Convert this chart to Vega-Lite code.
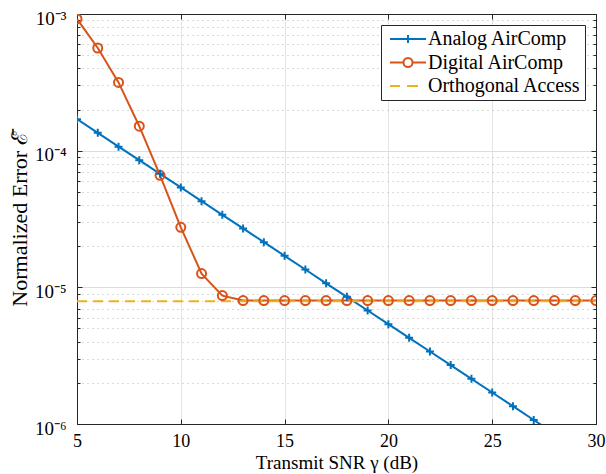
{
  "$schema": "https://vega.github.io/schema/vega-lite/v6.json",
  "width": 519,
  "height": 410,
  "autosize": {"type": "none"},
  "padding": {"left": 77, "top": 14, "right": 10, "bottom": 50},
  "background": "white",
  "config": {
    "view": {"stroke": null},
    "font": "Liberation Serif",
    "axis": {
      "labelFont": "Liberation Serif",
      "titleFont": "Liberation Serif",
      "labelFontSize": 18,
      "titleFontSize": 20,
      "titleFontWeight": "normal",
      "labelColor": "#000000",
      "titleColor": "#000000",
      "domainColor": "#262626",
      "tickColor": "#262626",
      "domainWidth": 1,
      "tickWidth": 1
    }
  },
  "data": {
    "values": [
      {"snr": 5, "err": 1.70e-4, "series": "Analog AirComp"},
      {"snr": 6, "err": 1.35e-4, "series": "Analog AirComp"},
      {"snr": 7, "err": 1.07e-4, "series": "Analog AirComp"},
      {"snr": 8, "err": 8.52e-5, "series": "Analog AirComp"},
      {"snr": 9, "err": 6.77e-5, "series": "Analog AirComp"},
      {"snr": 10, "err": 5.38e-5, "series": "Analog AirComp"},
      {"snr": 11, "err": 4.27e-5, "series": "Analog AirComp"},
      {"snr": 12, "err": 3.39e-5, "series": "Analog AirComp"},
      {"snr": 13, "err": 2.70e-5, "series": "Analog AirComp"},
      {"snr": 14, "err": 2.14e-5, "series": "Analog AirComp"},
      {"snr": 15, "err": 1.70e-5, "series": "Analog AirComp"},
      {"snr": 16, "err": 1.35e-5, "series": "Analog AirComp"},
      {"snr": 17, "err": 1.07e-5, "series": "Analog AirComp"},
      {"snr": 18, "err": 8.52e-6, "series": "Analog AirComp"},
      {"snr": 19, "err": 6.77e-6, "series": "Analog AirComp"},
      {"snr": 20, "err": 5.38e-6, "series": "Analog AirComp"},
      {"snr": 21, "err": 4.27e-6, "series": "Analog AirComp"},
      {"snr": 22, "err": 3.39e-6, "series": "Analog AirComp"},
      {"snr": 23, "err": 2.70e-6, "series": "Analog AirComp"},
      {"snr": 24, "err": 2.14e-6, "series": "Analog AirComp"},
      {"snr": 25, "err": 1.70e-6, "series": "Analog AirComp"},
      {"snr": 26, "err": 1.35e-6, "series": "Analog AirComp"},
      {"snr": 27, "err": 1.07e-6, "series": "Analog AirComp"},
      {"snr": 28, "err": 8.52e-7, "series": "Analog AirComp"},
      {"snr": 29, "err": 6.77e-7, "series": "Analog AirComp"},
      {"snr": 30, "err": 5.38e-7, "series": "Analog AirComp"},
      {"snr": 5, "err": 9.2e-4, "series": "Digital AirComp"},
      {"snr": 6, "err": 5.64e-4, "series": "Digital AirComp"},
      {"snr": 7, "err": 3.16e-4, "series": "Digital AirComp"},
      {"snr": 8, "err": 1.51e-4, "series": "Digital AirComp"},
      {"snr": 9, "err": 6.6e-5, "series": "Digital AirComp"},
      {"snr": 10, "err": 2.75e-5, "series": "Digital AirComp"},
      {"snr": 11, "err": 1.26e-5, "series": "Digital AirComp"},
      {"snr": 12, "err": 8.7e-6, "series": "Digital AirComp"},
      {"snr": 13, "err": 8.0e-6, "series": "Digital AirComp"},
      {"snr": 14, "err": 8.0e-6, "series": "Digital AirComp"},
      {"snr": 15, "err": 8.0e-6, "series": "Digital AirComp"},
      {"snr": 16, "err": 8.0e-6, "series": "Digital AirComp"},
      {"snr": 17, "err": 8.0e-6, "series": "Digital AirComp"},
      {"snr": 18, "err": 8.0e-6, "series": "Digital AirComp"},
      {"snr": 19, "err": 8.0e-6, "series": "Digital AirComp"},
      {"snr": 20, "err": 8.0e-6, "series": "Digital AirComp"},
      {"snr": 21, "err": 8.0e-6, "series": "Digital AirComp"},
      {"snr": 22, "err": 8.0e-6, "series": "Digital AirComp"},
      {"snr": 23, "err": 8.0e-6, "series": "Digital AirComp"},
      {"snr": 24, "err": 8.0e-6, "series": "Digital AirComp"},
      {"snr": 25, "err": 8.0e-6, "series": "Digital AirComp"},
      {"snr": 26, "err": 8.0e-6, "series": "Digital AirComp"},
      {"snr": 27, "err": 8.0e-6, "series": "Digital AirComp"},
      {"snr": 28, "err": 8.0e-6, "series": "Digital AirComp"},
      {"snr": 29, "err": 8.0e-6, "series": "Digital AirComp"},
      {"snr": 30, "err": 8.0e-6, "series": "Digital AirComp"},
      {"snr": 5, "err": 7.9e-6, "series": "Orthogonal Access"},
      {"snr": 10, "err": 7.9e-6, "series": "Orthogonal Access"},
      {"snr": 15, "err": 7.9e-6, "series": "Orthogonal Access"},
      {"snr": 20, "err": 7.9e-6, "series": "Orthogonal Access"},
      {"snr": 25, "err": 7.9e-6, "series": "Orthogonal Access"},
      {"snr": 30, "err": 7.9e-6, "series": "Orthogonal Access"}
    ]
  },
  "layer": [
    {
      "transform": [{"filter": "datum.series !== 'Orthogonal Access'"}],
      "mark": {"type": "line", "strokeWidth": 2, "clip": true},
      "encoding": {
        "x": {
          "field": "snr", "type": "quantitative",
          "scale": {"domain": [5, 30], "nice": false, "zero": false},
          "axis": {
            "orient": "bottom",
            "values": [5, 10, 15, 20, 25, 30],
            "title": "Transmit SNR γ (dB)",
            "titleFontSize": 19,
            "grid": true,
            "gridColor": "#e3e3e3",
            "gridWidth": 1,
            "tickSize": -5,
            "labelPadding": 13,
            "labelFlush": false,
            "titlePadding": 3
          }
        },
        "y": {
          "field": "err", "type": "quantitative",
          "scale": {"type": "log", "domain": [1e-6, 1e-3], "nice": false},
          "axis": {
            "orient": "left",
            "values": [1e-6, 2e-6, 3e-6, 4e-6, 5e-6, 6e-6, 7e-6, 8e-6, 9e-6, 1e-5, 2e-5, 3e-5, 4e-5, 5e-5, 6e-5, 7e-5, 8e-5, 9e-5, 1e-4, 2e-4, 3e-4, 4e-4, 5e-4, 6e-4, 7e-4, 8e-4, 9e-4, 1e-3],
            "labelExpr": "abs(log(datum.value)/LN10 - round(log(datum.value)/LN10)) < 0.01 ? '10⁻' + ['⁰','¹','²','³','⁴','⁵','⁶'][-round(log(datum.value)/LN10)] : ''",
            "labelFontSize": 19,
            "labelOffset": 4,
            "grid": true,
            "gridColor": {"condition": {"test": "abs(log(datum.value)/LN10 - round(log(datum.value)/LN10)) < 0.01", "value": "#dcdcdc"}, "value": "#b5b5b5"},
            "gridDash": {"condition": {"test": "abs(log(datum.value)/LN10 - round(log(datum.value)/LN10)) < 0.01", "value": []}, "value": [1, 4]},
            "tickSize": {"condition": {"test": "abs(log(datum.value)/LN10 - round(log(datum.value)/LN10)) < 0.01", "value": -5}, "value": -3},
            "labelPadding": 16,
            "title": "Normalized Error ℰ̄",
            "titleFontSize": 22,
            "titlePadding": 3
          }
        },
        "color": {
          "field": "series", "type": "nominal",
          "scale": {"domain": ["Analog AirComp", "Digital AirComp", "Orthogonal Access"], "range": ["#0072BD", "#D95319", "#EDB120"]},
          "legend": {
            "title": null,
            "orient": "none",
            "legendX": 304,
            "legendY": 11,
            "padding": 4,
            "strokeColor": "#262626",
            "fillColor": "white",
            "labelFont": "Liberation Serif",
            "labelFontSize": 20,
            "labelColor": "#000000",
            "symbolSize": 100,
            "symbolStrokeWidth": 2,
            "symbolOffset": 13,
            "labelOffset": 10,
            "rowPadding": 3.5,
            "encode": {
              "symbols": {
                "update": {
                  "shape": {"signal": "datum.value === 'Analog AirComp' ? 'M-3.6,0H3.6M0,-0.8V0.8' : datum.value === 'Digital AirComp' ? 'M-3.6,0H-0.9M0.9,0H3.6M-0.9,0A0.9,0.9 0 1,0 0.9,0A0.9,0.9 0 1,0 -0.9,0' : 'M-3.6,0H-1.6M-0.2,0H2.0'"},
                  "strokeWidth": {"value": 2},
                  "fill": {"value": "transparent"},
                  "strokeDash": {"value": []}
                }
              }
            }
          }
        }
      }
    },
    {
      "transform": [{"filter": "datum.series === 'Orthogonal Access'"}],
      "mark": {"type": "line", "strokeWidth": 2, "strokeDash": [10, 6], "clip": true},
      "encoding": {
        "x": {
          "field": "snr", "type": "quantitative",
          "axis": {"orient": "top", "values": [5, 10, 15, 20, 25, 30], "labels": false, "title": null, "grid": false, "tickSize": -5}
        },
        "y": {
          "field": "err", "type": "quantitative",
          "axis": {
            "orient": "right",
            "values": [1e-6, 2e-6, 3e-6, 4e-6, 5e-6, 6e-6, 7e-6, 8e-6, 9e-6, 1e-5, 2e-5, 3e-5, 4e-5, 5e-5, 6e-5, 7e-5, 8e-5, 9e-5, 1e-4, 2e-4, 3e-4, 4e-4, 5e-4, 6e-4, 7e-4, 8e-4, 9e-4, 1e-3],
            "labels": false, "title": null, "grid": false,
            "tickSize": {"condition": {"test": "abs(log(datum.value)/LN10 - round(log(datum.value)/LN10)) < 0.01", "value": -5}, "value": -3}
          }
        },
        "color": {"field": "series", "type": "nominal"}
      }
    },
    {
      "transform": [{"filter": "datum.series === 'Digital AirComp'"}],
      "mark": {"type": "point", "shape": "circle", "size": 81, "filled": false, "strokeWidth": 2, "color": "#D95319", "opacity": 1, "clip": true},
      "encoding": {
        "x": {"field": "snr", "type": "quantitative", "axis": null},
        "y": {"field": "err", "type": "quantitative", "axis": null}
      }
    },
    {
      "transform": [{"filter": "datum.series === 'Analog AirComp'"}],
      "mark": {"type": "point", "shape": "M-1,0H1M0,-1V1", "size": 64, "filled": false, "strokeWidth": 2, "color": "#0072BD", "opacity": 1, "clip": true},
      "encoding": {
        "x": {"field": "snr", "type": "quantitative", "axis": null},
        "y": {"field": "err", "type": "quantitative", "axis": null}
      }
    }
  ],
  "resolve": {"axis": {"x": "independent", "y": "independent"}}
}
